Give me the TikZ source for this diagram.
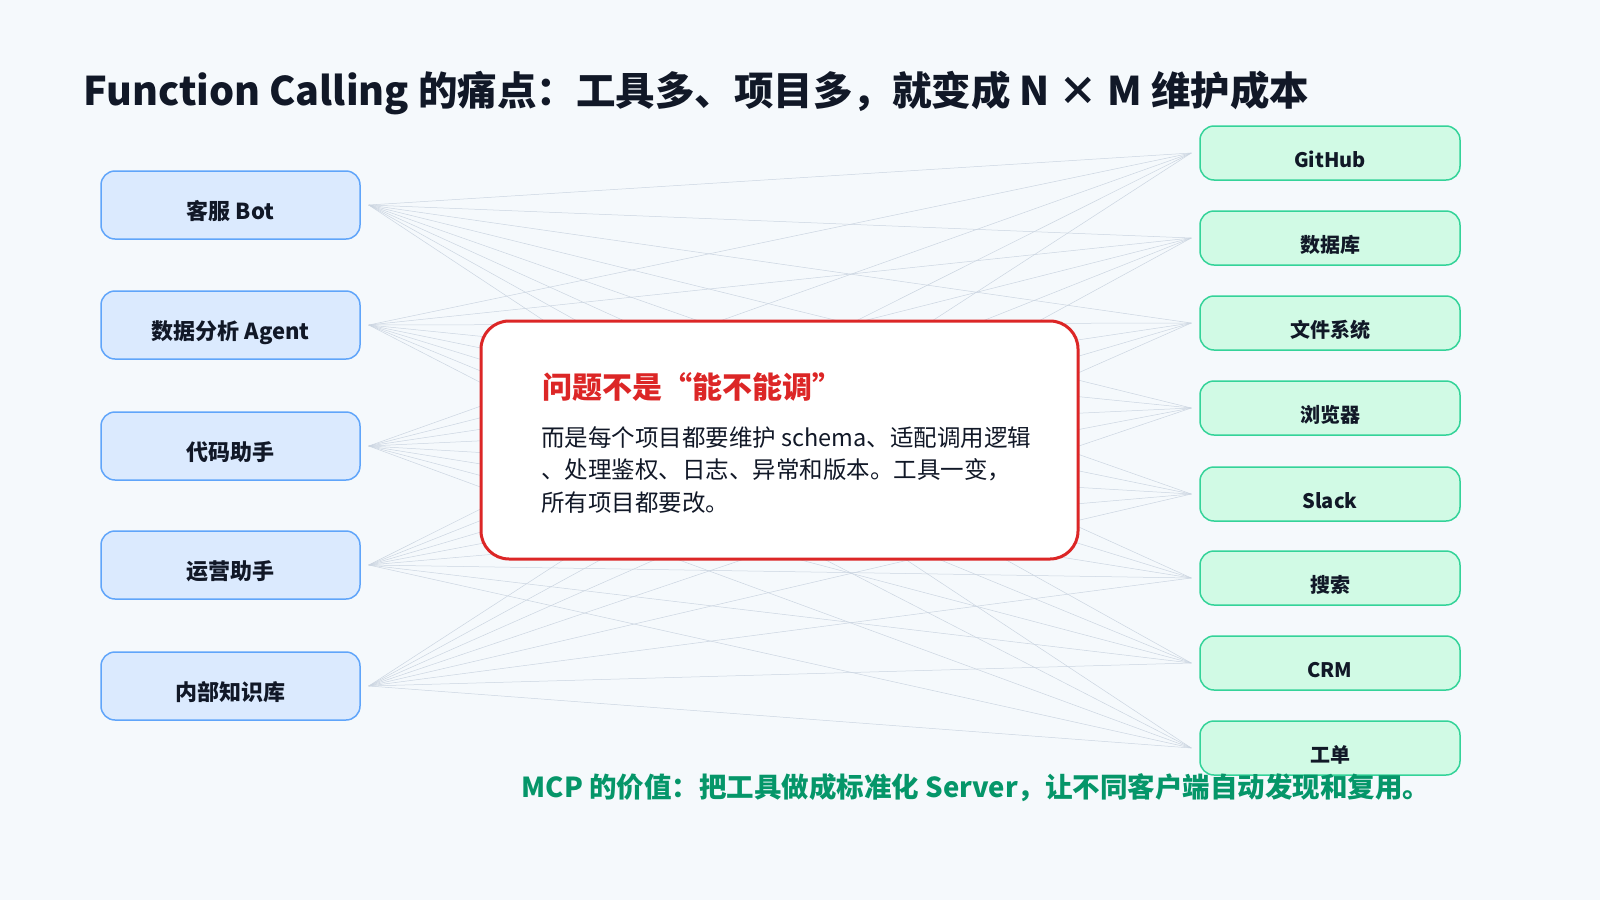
\documentclass[tikz,border=0pt]{standalone}
\usepackage{fontspec}
\setmainfont{Noto Sans CJK SC}
\usetikzlibrary{positioning}
\definecolor{bg}{HTML}{F5F9FC}
\definecolor{appfill}{HTML}{DBEAFE}
\definecolor{appline}{HTML}{60A5FA}
\definecolor{toolfill}{HTML}{D1FAE5}
\definecolor{toolline}{HTML}{34D399}
\definecolor{wire}{HTML}{CBD5E1}
\definecolor{alert}{HTML}{DC2626}
\definecolor{good}{HTML}{059669}
\definecolor{ink}{HTML}{111827}
\newcommand{\lowtext}[1]{\raisebox{-14pt}[0pt][0pt]{#1}}
\tikzset{
  app/.style={draw=appline, fill=appfill, line width=1.5pt, rounded corners=14pt,
    minimum width=259pt, minimum height=68pt, inner sep=0pt, text=ink,
    font=\fontsize{22}{26}\selectfont\bfseries},
  tool/.style={draw=toolline, fill=toolfill, line width=1.5pt, rounded corners=14pt,
    minimum width=260pt, minimum height=54pt, inner sep=0pt, text=ink,
    font=\fontsize{20}{24}\selectfont\bfseries},
  wire/.style={draw=wire, line width=0.5pt}
}
\begin{document}
\begin{tikzpicture}[x=1pt,y=-1pt]

  % background
  \fill[bg] (0,0) rectangle (1600,900);
  \useasboundingbox (0,0) rectangle (1600,900);

  % title
  \node[anchor=west, text=ink, font=\fontsize{39.5}{46}\selectfont\bfseries] (title) at (80,93)
    {Function Calling 的痛点：工具多、项目多，就变成 N × M 维护成本};

  % clients
  \foreach \name/\y/\txt in {a/205/客服 Bot, b/325/数据分析 Agent, c/446/代码助手,
                             d/565/运营助手, e/686/内部知识库}
    \node[app] (\name) at (230.5,\y) {\lowtext{\txt}};

  % tools
  \foreach \name/\y/\txt in {t1/153/GitHub, t2/238/数据库, t3/323/文件系统, t4/408/浏览器,
                             t5/494/Slack, t6/578/搜索, t7/663/CRM, t8/748/工单}
    \node[tool] (\name) at (1330,\y) {\lowtext{\txt}};

  % N x M wires
  \foreach \s in {a,b,c,d,e}
    \foreach \t in {t1,t2,t3,t4,t5,t6,t7,t8}
      \draw[wire] ([xshift=8pt]\s.east) -- ([xshift=-8pt]\t.west);

  % problem box
  \node[draw=alert, fill=white, line width=3pt, rounded corners=28pt,
        minimum width=597pt, minimum height=238pt] (problem) at (779.5,440) {};
  \node[anchor=west, text=alert, font=\fontsize{30}{34}\selectfont\bfseries] (head) at (539,387)
    {问题不是“能不能调”};
  \node[anchor=north west, text=ink, align=left, inner sep=0pt,
        font=\fontsize{23.5}{32.5}\selectfont] (body) at (541,426)
    {而是每个项目都要维护 schema、适配调用逻辑\\、处理鉴权、日志、异常和版本。工具一变，\\所有项目都要改。};

  % footer
  \node[anchor=west, text=good, font=\fontsize{27.5}{32}\selectfont\bfseries] (value) at (518,788)
    {MCP 的价值：把工具做成标准化 Server，让不同客户端自动发现和复用。};

\end{tikzpicture}
\end{document}
